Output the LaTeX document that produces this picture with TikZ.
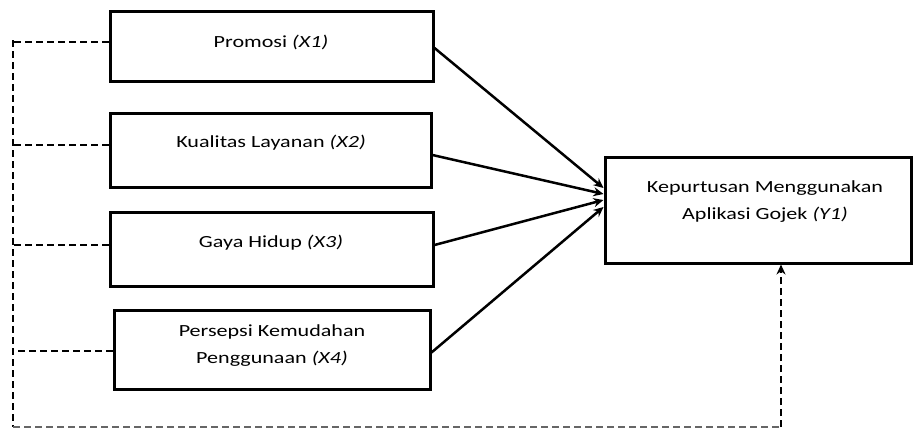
\documentclass[tikz,border=0pt]{standalone}
\usepackage{fontspec}
\setmainfont{Carlito}[FakeStretch=1.3]
\usetikzlibrary{arrows.meta,calc}
\begin{document}
\begin{tikzpicture}[x=1pt,y=-1pt,
  box/.style={draw,line width=3pt,rectangle,inner sep=0pt},
  lbl/.style={font=\fontsize{17}{27}\selectfont,align=center,inner sep=0pt},
  arr/.style={line width=2.5pt,-{Stealth[length=10pt,width=9pt]}},
  dashln/.style={line width=2.6pt,dash pattern=on 7pt off 4pt},
  dashthin/.style={line width=1.6pt,black!60,dash pattern=on 7pt off 4pt}
]
\useasboundingbox (0,0) rectangle (913,429);
\node[box,minimum width=323pt,minimum height=70pt] (x1) at (271.5,46) {};
\node[box,minimum width=321pt,minimum height=74pt] (x2) at (270.5,150) {};
\node[box,minimum width=323pt,minimum height=74pt] (x3) at (271.5,249) {};
\node[box,minimum width=316pt,minimum height=79pt] (x4) at (272,349.5) {};
\node[box,minimum width=306pt,minimum height=106pt] (y) at (758,210) {};
\node[lbl] (t1) at (271,42) {Promosi \textit{(X1)}};
\node[lbl] (t2) at (271,143) {Kualitas Layanan \textit{(X2)}};
\node[lbl] (t3) at (271,243) {Gaya Hidup \textit{(X3)}};
\node[lbl] (t4) at (272,346) {Persepsi Kemudahan\\Penggunaan \textit{(X4)}};
\node[lbl] (ty) at (765,202) {Kepurtusan Menggunakan\\Aplikasi Gojek \textit{(Y1)}};
% solid arrows
\draw[arr] ([yshift=-2pt]x1.east) -- ([yshift=22pt]y.west);
\draw[arr] ([yshift=-5pt]x2.east) -- ([yshift=16pt]y.west);
\draw[arr] ([yshift=4pt]x3.east) -- ([yshift=10pt]y.west);
\draw[arr] ([yshift=-3pt]x4.east) -- ([yshift=3pt]y.west);
% dashed connectors
\coordinate (top) at (13,40);
\coordinate (corner) at (13,427);
\coordinate (bend) at (781,427);
\draw[dashln] (top) -- (corner);
\draw[dashln] ([yshift=4pt]x1.west) -- ++(-97,0);
\draw[dashln] ([yshift=5pt]x2.west) -- ++(-97,0);
\draw[dashln] ([yshift=4pt]x3.west) -- ++(-97,0);
\draw[dashln] ([yshift=-1.5pt]x4.west) -- ++(-101,0);
\draw[dashthin] (corner) -- (bend);
\draw[dashln,-{Stealth[length=10pt,width=9pt]}] (bend) -- (bend |- y.south);
\end{tikzpicture}
\end{document}
